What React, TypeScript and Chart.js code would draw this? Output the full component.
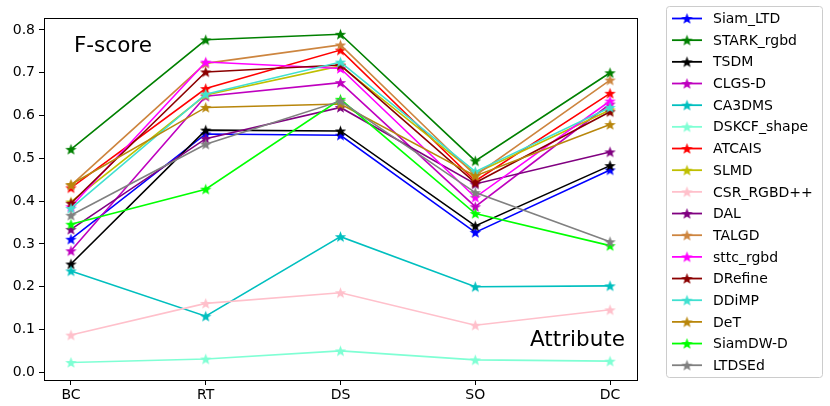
import React, { useEffect, useRef } from "react";
import { Chart, registerables } from "chart.js";

Chart.register(...registerables);

const categories = ["BC", "RT", "DS", "SO", "DC"];
const yTicks = [0, 0.1, 0.2, 0.3, 0.4, 0.5, 0.6, 0.7, 0.8];

const trackers = [
  "Siam_LTD",
  "STARK_rgbd",
  "TSDM",
  "CLGS-D",
  "CA3DMS",
  "DSKCF_shape",
  "ATCAIS",
  "SLMD",
  "CSR_RGBD++",
  "DAL",
  "TALGD",
  "sttc_rgbd",
  "DRefine",
  "DDiMP",
  "DeT",
  "SiamDW-D",
  "LTDSEd",
];

const colors = [
  "#0000ff",
  "#008000",
  "#000000",
  "#bf00bf",
  "#00bfbf",
  "#7fffd4",
  "#ff0000",
  "#bfbf00",
  "#ffc0cb",
  "#800080",
  "#cd853f",
  "#ff00ff",
  "#8b0000",
  "#40e0d0",
  "#b8860b",
  "#00ff00",
  "#808080",
];

const siamLtd = [0.311, 0.557, 0.554, 0.327, 0.473];
const starkRgbd = [0.521, 0.777, 0.79, 0.494, 0.7];
const tsdm = [0.253, 0.566, 0.564, 0.342, 0.483];
const clgsD = [0.284, 0.645, 0.677, 0.387, 0.627];
const ca3dms = [0.237, 0.131, 0.317, 0.2, 0.202];
const dskcfShape = [0.023, 0.031, 0.05, 0.029, 0.026];
const atcais = [0.431, 0.663, 0.753, 0.447, 0.652];
const slmd = [0.398, 0.648, 0.716, 0.465, 0.613];
const csrRgbd = [0.087, 0.161, 0.186, 0.11, 0.146];
const dal = [0.334, 0.546, 0.619, 0.44, 0.515];
const talgd = [0.437, 0.722, 0.765, 0.46, 0.683];
const sttcRgbd = [0.387, 0.725, 0.71, 0.409, 0.634];
const dRefine = [0.395, 0.702, 0.718, 0.443, 0.609];
const ddimp = [0.383, 0.65, 0.725, 0.469, 0.619];
const deT = [0.439, 0.619, 0.627, 0.459, 0.579];
const siamDwD = [0.346, 0.428, 0.638, 0.371, 0.296];
const ltdsEd = [0.367, 0.533, 0.634, 0.42, 0.305];

const series = [
  siamLtd,
  starkRgbd,
  tsdm,
  clgsD,
  ca3dms,
  dskcfShape,
  atcais,
  slmd,
  csrRgbd,
  dal,
  talgd,
  sttcRgbd,
  dRefine,
  ddimp,
  deT,
  siamDwD,
  ltdsEd,
];

const FONT = "'DejaVu Sans', sans-serif";

// filled five-point star, used as point style
function makeStar(color: string, size = 13): HTMLCanvasElement {
  const c = document.createElement("canvas");
  c.width = size;
  c.height = size;
  const ctx = c.getContext("2d")!;
  const cx = size / 2;
  const cy = size / 2 + 0.5;
  const outer = size / 2 - 0.5;
  const inner = outer * 0.42;
  ctx.beginPath();
  for (let k = 0; k < 10; k++) {
    const r = k % 2 === 0 ? outer : inner;
    const a = -Math.PI / 2 + (k * Math.PI) / 5;
    const x = cx + r * Math.cos(a);
    const y = cy + r * Math.sin(a);
    if (k === 0) ctx.moveTo(x, y);
    else ctx.lineTo(x, y);
  }
  ctx.closePath();
  ctx.fillStyle = color;
  ctx.fill();
  return c;
}

const framePlugin = {
  id: "frame",
  afterDraw(chart: any) {
    const { ctx, chartArea } = chart;
    ctx.save();
    ctx.strokeStyle = "#000";
    ctx.lineWidth = 1;
    ctx.strokeRect(
      Math.round(chartArea.left) + 0.5,
      Math.round(chartArea.top) + 0.5,
      Math.round(chartArea.right - chartArea.left),
      Math.round(chartArea.bottom - chartArea.top)
    );
    ctx.fillStyle = "#000";
    ctx.font = `21.5px ${FONT}`;
    ctx.textBaseline = "alphabetic";
    ctx.textAlign = "left";
    ctx.fillText("F-score", 74, 52);
    ctx.fillText("Attribute", 530, 346);
    ctx.restore();
  },
};

const legendPlugin = {
  id: "starLegend",
  afterDraw(chart: any) {
    const { ctx } = chart;
    const x0 = 666.5;
    const y0 = 6.5;
    const w = 156;
    const h = 371;
    const r = 3;
    ctx.save();
    ctx.beginPath();
    ctx.moveTo(x0 + r, y0);
    ctx.arcTo(x0 + w, y0, x0 + w, y0 + h, r);
    ctx.arcTo(x0 + w, y0 + h, x0, y0 + h, r);
    ctx.arcTo(x0, y0 + h, x0, y0, r);
    ctx.arcTo(x0, y0, x0 + w, y0, r);
    ctx.closePath();
    ctx.fillStyle = "rgba(255,255,255,0.8)";
    ctx.fill();
    ctx.strokeStyle = "#cccccc";
    ctx.lineWidth = 1;
    ctx.stroke();

    ctx.font = `14px ${FONT}`;
    ctx.textBaseline = "middle";
    ctx.textAlign = "left";
    chart.data.datasets.forEach((ds: any, i: number) => {
      const y = 18.5 + i * 21.67;
      ctx.strokeStyle = ds.borderColor;
      ctx.lineWidth = 1.8;
      ctx.beginPath();
      ctx.moveTo(672, y);
      ctx.lineTo(702, y);
      ctx.stroke();
      const img = ds.pointStyle as HTMLCanvasElement;
      ctx.drawImage(img, 687 - img.width / 2, y - img.height / 2);
      ctx.fillStyle = "#000";
      ctx.fillText(ds.label, 713, y + 1);
    });
    ctx.restore();
  },
};

export default function App() {
  const canvasRef = useRef<HTMLCanvasElement | null>(null);

  useEffect(() => {
    if (!canvasRef.current) return;
    const n = series.length;
    const chart = new Chart(canvasRef.current, {
      type: "line",
      data: {
        datasets: series.map((vals, i) => ({
          label: trackers[i],
          data: vals.map((v, j) => ({ x: j, y: v })),
          borderColor: colors[i],
          backgroundColor: colors[i],
          borderWidth: 1.6,
          pointStyle: makeStar(colors[i]),
          pointRadius: 6,
          order: n - i,
          tension: 0,
          fill: false,
        })),
      },
      options: {
        animation: false,
        responsive: true,
        maintainAspectRatio: false,
        layout: { padding: { top: 18, right: 193, left: 0, bottom: 0 } },
        plugins: {
          legend: { display: false },
          tooltip: { enabled: false },
        },
        scales: {
          x: {
            type: "linear",
            min: -0.2,
            max: 4.2,
            afterBuildTicks: (s: any) => {
              s.ticks = categories.map((_, i) => ({ value: i }));
            },
            afterFit: (s: any) => {
              s.height = 26;
            },
            ticks: {
              callback: (v: any) => categories[v as number] ?? "",
              color: "#000",
              font: { family: FONT, size: 14 },
              padding: 2,
              maxRotation: 0,
            },
            grid: {
              drawOnChartArea: false,
              tickLength: 5,
              color: "#000",
            },
            border: { display: false },
          },
          y: {
            type: "linear",
            min: -0.018,
            max: 0.828,
            afterBuildTicks: (s: any) => {
              s.ticks = yTicks.map((v) => ({ value: v }));
            },
            afterFit: (s: any) => {
              s.width = 44;
            },
            ticks: {
              callback: (v: any) => Number(v).toFixed(1),
              color: "#000",
              font: { family: FONT, size: 14 },
              padding: 4,
            },
            grid: {
              drawOnChartArea: false,
              tickLength: 5,
              color: "#000",
            },
            border: { display: false },
          },
        },
      } as any,
      plugins: [framePlugin, legendPlugin],
    });
    return () => chart.destroy();
  }, []);

  return (
    <div style={{ position: "fixed", left: 0, top: 0, width: 830, height: 406, background: "#fff" }}>
      <canvas ref={canvasRef} />
    </div>
  );
}
